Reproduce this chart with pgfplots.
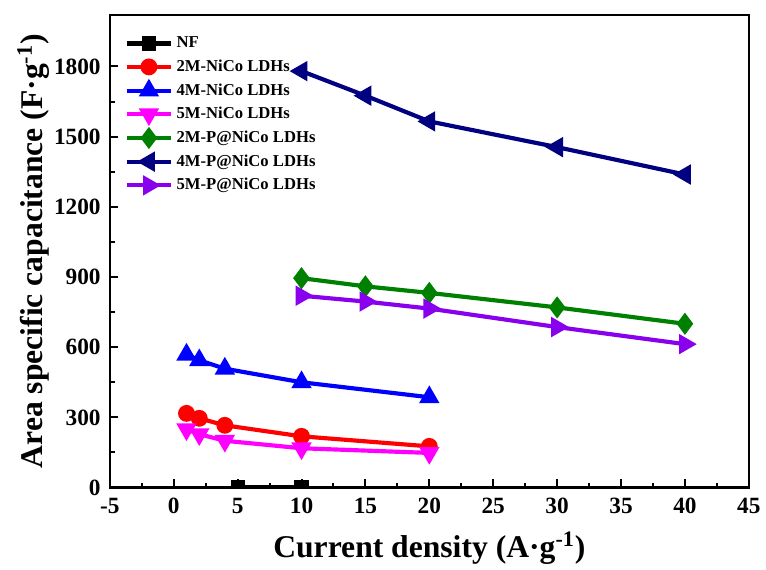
\documentclass[border=0pt]{standalone}
\usepackage{pgfplots}
\pgfplotsset{compat=1.18}
\usepackage{fontspec}
\setmainfont{Liberation Serif}
\definecolor{cnavy}{RGB}{0,0,128}
\definecolor{cgreen}{RGB}{0,128,0}
\definecolor{cviolet}{RGB}{136,0,238}
\definecolor{cmag}{RGB}{255,0,255}
\definecolor{cred}{RGB}{255,0,0}
\definecolor{cblue}{RGB}{0,0,255}
\begin{document}
\begin{tikzpicture}
\begin{axis}[
  scale only axis, width=384pt, height=284pt,
  xmin=-5, xmax=45, ymin=0, ymax=2020,
  xtick={-5,0,...,45}, ytick={0,300,...,1800},
  minor x tick num=1, minor y tick num=1,
  xtick pos=left, ytick pos=left, tick align=inside,
  major tick length=5pt, minor tick length=3pt,
  axis line style={line width=1.4pt},
  every tick/.style={black, line width=1.2pt},
  /pgf/number format/assume math mode=true,
  /pgf/number format/1000 sep={},
  ticklabel style={font=\bfseries\fontsize{14}{14}\selectfont},
  xticklabel style={yshift=-3pt},
  yticklabel style={xshift=-2pt},
  xlabel={\bfseries Current density (A·g\textsuperscript{-1})},
  ylabel={\bfseries Area specific capacitance (F·g\textsuperscript{-1})},
  xlabel style={font=\fontsize{19}{19}\selectfont, yshift=-4pt},
  ylabel style={font=\fontsize{19}{19}\selectfont, yshift=-4pt},
  legend style={draw=none, fill=none, at={(0.02,0.965)}, anchor=north west,
    font=\bfseries\fontsize{10}{11}\selectfont, row sep=1.8pt,
    inner sep=1pt},
  legend cell align=left,
  legend image code/.code={\draw[mark repeat=2,mark phase=2] plot coordinates {(0cm,0cm) (0.47cm,0cm) (0.94cm,0cm)};},
  every axis plot/.append style={line width=2.5pt, mark size=3.8pt, mark options={solid}},
]
\addplot[black, mark=square*, mark size=3pt, clip marker paths=true] coordinates {(5,2)(10,2)};
\addlegendentry{NF}
\addplot[cred, mark=*] coordinates {(1,317)(2,296)(4,266)(10,219)(20,176)};
\addlegendentry{2M-NiCo LDHs}
\addplot[cblue, mark=triangle*, mark size=4.6pt] coordinates {(1,568)(2,544)(4,508)(10,450)(20,386)};
\addlegendentry{4M-NiCo LDHs}
\addplot[cmag, mark=triangle*, mark size=4.6pt, mark options={rotate=180}] coordinates {(1,249)(2,228)(4,200)(10,168)(20,148)};
\addlegendentry{5M-NiCo LDHs}
\addplot[cgreen, mark=diamond*, mark size=4.6pt] coordinates {(10,895)(15,860)(20,832)(30,770)(40,700)};
\addlegendentry{2M-P@NiCo LDHs}
\addplot[cnavy, mark=triangle*, mark size=4.6pt, mark options={rotate=90}] coordinates {(10,1780)(15,1675)(20,1565)(30,1455)(40,1338)};
\addlegendentry{4M-P@NiCo LDHs}
\addplot[cviolet, mark=triangle*, mark size=4.6pt, mark options={rotate=-90}] coordinates {(10,820)(15,795)(20,765)(30,686)(40,613)};
\addlegendentry{5M-P@NiCo LDHs}
\end{axis}
\path (current axis.south west) ++(-66pt,-46pt) coordinate (bbA);
\path (current axis.north east) ++(9.6pt,9pt) coordinate (bbB);
\path (bbA) (bbB);
\end{tikzpicture}
\end{document}
